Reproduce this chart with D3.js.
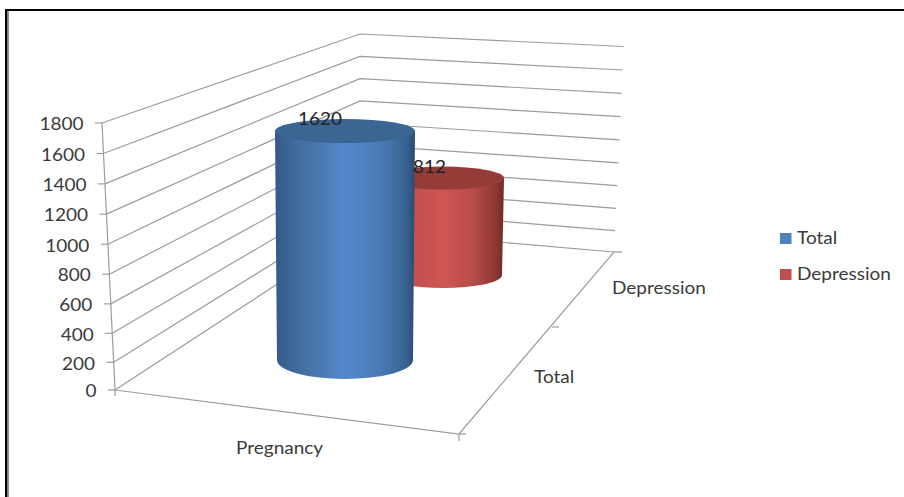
<!DOCTYPE html>
<html>
<head>
<meta charset="utf-8">
<script src="https://cdn.jsdelivr.net/npm/d3@7"></script>
<style>
  html, body { margin: 0; padding: 0; background: #fff; }
  svg { display: block; }
  text { font-family: Lato, "Open Sans", sans-serif; }
</style>
</head>
<body>
<svg id="chart" width="904" height="497"></svg>
<script>
// Chart values
const yTicks = [0, 200, 400, 600, 800, 1000, 1200, 1400, 1600, 1800];
const seriesNames = ["Total", "Depression"];
const seriesValues = [1620, 812];
const categoryLabel = "Pregnancy";

// Palette for the two cylinders
const bodyStops = [
  [[0, "#33598a"], [0.18, "#446f9f"], [0.5, "#5288cb"], [0.75, "#4a7cb6"], [0.94, "#37628f"], [1, "#2b4a70"]],
  [[0, "#a94644"], [0.25, "#c2504d"], [0.5, "#cf5653"], [0.75, "#b64c49"], [0.94, "#8b3634"], [1, "#6e2b29"]]
];
const capColors = ["#3b6592", "#953c39"];
const legendColors = ["#4f81bd", "#c0504d"];

const svg = d3.select("#chart");
const domain = [0, 1800];

// All labels are set slightly wider than the font's natural width
function widen(selection) {
  selection.each(function () {
    this.setAttribute("textLength", this.getComputedTextLength() * 1.085);
    this.setAttribute("lengthAdjust", "spacingAndGlyphs");
  });
}

// Picture frame: only the top and left rules are drawn
svg.append("rect").attr("x", 5).attr("y", 9).attr("width", 899).attr("height", 2).attr("fill", "#000");
svg.append("rect").attr("x", 5).attr("y", 9).attr("width", 2.4).attr("height", 488).attr("fill", "#000");
svg.append("rect").attr("x", 7.4).attr("y", 11).attr("width", 1.4).attr("height", 486).attr("fill", "#777");

// One vertical scale pair per wall edge; the exponent gives the slight perspective compression
function edgeScale(bottom, top) {
  return {
    x: d3.scalePow().exponent(1.03).domain(domain).range([bottom[0], top[0]]),
    y: d3.scalePow().exponent(1.03).domain(domain).range([bottom[1], top[1]])
  };
}
const frontLeft = edgeScale([115, 390], [102, 123]);
const backLeft = edgeScale([360, 230], [360, 34]);
const backRight = edgeScale([614, 252], [624, 46.5]);
const floorFront = [459, 434];
const floorTick = [552, 327];

const gridColor = "#9c9c9c";
const grid = svg.append("g").attr("fill", "none").attr("stroke", gridColor).attr("stroke-width", 1.2);

// Walls
const wallLine = d3.line();
grid.selectAll("path.wall").data(yTicks).join("path").attr("class", "wall")
  .attr("d", v => wallLine([
    [frontLeft.x(v), frontLeft.y(v)],
    [backLeft.x(v), backLeft.y(v)],
    [backRight.x(v), backRight.y(v)]
  ]));

// Value axis with its ticks
grid.append("path").attr("d", wallLine([[frontLeft.x(0), frontLeft.y(0)], [frontLeft.x(1800), frontLeft.y(1800)]]));
grid.selectAll("path.tick").data(yTicks).join("path").attr("class", "tick")
  .attr("d", v => wallLine([[frontLeft.x(v) - 7, frontLeft.y(v)], [frontLeft.x(v), frontLeft.y(v)]]));

// Floor edges and their ticks
grid.append("path").attr("d", wallLine([[frontLeft.x(0), frontLeft.y(0)], floorFront, [backRight.x(0), backRight.y(0)]]));
grid.append("path").attr("d", wallLine([[frontLeft.x(0), frontLeft.y(0)], [frontLeft.x(0), frontLeft.y(0) + 6]]));
grid.append("path").attr("d", wallLine([[floorFront[0], floorFront[1]], [floorFront[0], floorFront[1] + 7]]));
grid.append("path").attr("d", wallLine([[floorFront[0], floorFront[1]], [floorFront[0] + 7, floorFront[1]]]));
grid.append("path").attr("d", wallLine([floorTick, [floorTick[0] + 7, floorTick[1]]]));
grid.append("path").attr("d", wallLine([[backRight.x(0), backRight.y(0)], [backRight.x(0) + 8, backRight.y(0)]]));

// Value labels on the axis
svg.append("g").attr("font-size", 17.5).attr("fill", "#3a3a3a").attr("text-anchor", "end")
  .selectAll("text").data(yTicks).join("text")
  .attr("x", v => frontLeft.x(v) - 18.5)
  .attr("y", v => frontLeft.y(v) + 7.3)
  .text(v => v)
  .call(widen);

// Cylinder placement for each series, back one first when painting
const cylinderShape = [
  { cx: 345, baseY: 360, fullY: 105.6, rxTop: 70, rxBase: 68, ryTop: 12, ryBase: 19 },
  { cx: 443, baseY: 275, fullY: 60, rxTop: 61, rxBase: 59, ryTop: 11.5, ryBase: 13 }
];

const defs = svg.append("defs");
bodyStops.forEach((stops, i) => {
  const g = defs.append("linearGradient").attr("id", "body" + i)
    .attr("x1", 0).attr("x2", 1).attr("y1", 0).attr("y2", 0);
  stops.forEach(s => g.append("stop").attr("offset", s[0]).attr("stop-color", s[1]));
});

const order = d3.range(seriesValues.length).reverse();
const cylinders = svg.append("g").selectAll("g").data(order).join("g");

cylinders.each(function (i) {
  const c = cylinderShape[i];
  const height = d3.scaleLinear().domain(domain).range([c.baseY, c.fullY]);
  const topY = height(seriesValues[i]);
  const g = d3.select(this);
  g.append("path").attr("fill", `url(#body${i})`)
    .attr("d", `M${c.cx - c.rxTop},${topY}` +
      `L${c.cx - c.rxBase},${c.baseY}` +
      `A${c.rxBase},${c.ryBase} 0 0 0 ${c.cx + c.rxBase},${c.baseY}` +
      `L${c.cx + c.rxTop},${topY}Z`);
  g.append("ellipse").attr("cx", c.cx).attr("cy", topY)
    .attr("rx", c.rxTop).attr("ry", c.ryTop).attr("fill", capColors[i]);
});

// Data labels sit on top of the cylinders
const labelPlacement = [[298, 124.5], [413, 173]];
svg.append("g").attr("font-size", 17.5).attr("fill", "#222")
  .selectAll("text").data(seriesValues).join("text")
  .attr("x", (v, i) => labelPlacement[i][0])
  .attr("y", (v, i) => labelPlacement[i][1])
  .text(v => v)
  .call(widen);

// Category labels
const categoryTexts = [
  { text: categoryLabel, x: 236, y: 454 },
  { text: seriesNames[0], x: 534, y: 382.5 },
  { text: seriesNames[1], x: 612, y: 293.5 }
];
svg.append("g").attr("font-size", 17.5).attr("fill", "#3a3a3a")
  .selectAll("text").data(categoryTexts).join("text")
  .attr("x", d => d.x).attr("y", d => d.y).text(d => d.text)
  .call(widen);

// Legend
const legend = svg.append("g").selectAll("g").data(seriesNames).join("g")
  .attr("transform", (d, i) => `translate(780,${233 + i * 36})`);
legend.append("rect").attr("width", 11.5).attr("height", 11)
  .attr("fill", (d, i) => legendColors[i]);
legend.append("text").attr("x", 17).attr("y", 11).attr("font-size", 17.5)
  .attr("fill", "#3a3a3a").text(d => d)
  .call(widen);
</script>
</body>
</html>
